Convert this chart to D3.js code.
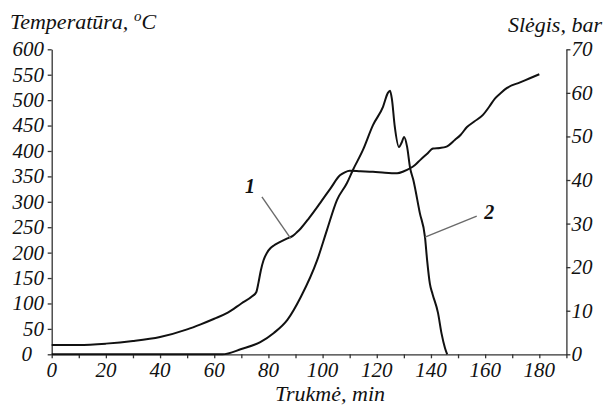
<!DOCTYPE html>
<html>
<head>
<meta charset="utf-8">
<script src="https://cdn.jsdelivr.net/npm/d3@7/dist/d3.min.js"></script>
<style>
  html, body { margin: 0; padding: 0; background: #fff; }
  svg { display: block; }
  text { font-family: "Liberation Serif", "Times New Roman", serif; font-style: italic; fill: #111; }
</style>
</head>
<body>
<svg id="chart" width="604" height="407"></svg>
<script>
// ---- data ----
const timeTicks = [0, 20, 40, 60, 80, 100, 120, 140, 160, 180];
const timeMinorTicks = d3.range(0, 191, 10);
const tempTicks = [0, 50, 100, 150, 200, 250, 300, 350, 400, 450, 500, 550, 600];
const presTicks = [0, 10, 20, 30, 40, 50, 60, 70];

// curve 1: temperature (°C) vs time (min)
const tempTime = [0, 10, 20, 30, 40, 50, 55, 60, 65, 70, 74, 75.5, 76.3, 77.2, 78.2, 79.5, 80.8, 82, 84, 87, 89, 90.5, 92, 95, 99, 103, 106.4, 108.2, 110, 114, 118.6, 123, 127.5, 130, 132.3, 134, 136, 138.5, 140.8, 143.3, 145.5, 148.9, 151, 153.3, 156, 159.2, 161.5, 163.6, 166, 168.1, 172.9, 176.5, 180];
const tempVal  = [18.5, 18.5, 21, 26, 34, 49, 59, 70, 82, 100, 114, 122, 140, 165, 185, 200, 209, 214, 220, 228, 233, 240, 248, 268, 297, 327, 352, 358, 361, 360, 359, 357, 356, 360, 366, 372, 382, 394, 405, 406, 408, 422, 432, 447, 458, 471, 487, 503, 515, 524, 535, 543, 551];

// curve 2: pressure (bar) vs time (min)
const presTime = [0, 63, 70, 77, 82, 87, 92, 98, 101.6, 105.3, 109, 111.2, 114.9, 118.6, 122.3, 124.1, 124.9, 125.6, 126.6, 128.2, 129.2, 130.1, 131.2, 132.3, 133.5, 135.9, 137.8, 138.6, 139.6, 140.6, 142.6, 143.9, 145.2, 146];
const presVal  = [0, 0, 1.2, 2.8, 4.9, 7.9, 13.2, 21.6, 28.5, 35.4, 39.3, 42.3, 46.9, 52.6, 56.8, 60.0, 60.5, 58.5, 52.5, 47.6, 48.6, 49.9, 47.6, 42.8, 40.0, 32.4, 26.9, 21.5, 16.2, 13.8, 9.5, 4.8, 1.4, 0];

const tempSeries = tempTime.map((t, i) => [t, tempVal[i]]);
const presSeries = presTime.map((t, i) => [t, presVal[i]]);

// ---- layout ----
const svg = d3.select("#chart");
const x  = d3.scaleLinear().domain([0, 190]).range([51.7, 566.4]);
const yT = d3.scaleLinear().domain([0, 600]).range([354.3, 49.3]);
const yP = d3.scaleLinear().domain([0, 70]).range([354.3, 49.3]);

const axisColor = "#333";
const tickFont = 21;

// left axis
const gL = svg.append("g").attr("transform", `translate(${x(0)},0)`);
gL.call(d3.axisLeft(yT).tickValues(tempTicks).tickSize(4).tickSizeOuter(0).tickFormat(""));
gL.selectAll(".domain, line").attr("stroke", axisColor).attr("stroke-width", 1.3);
svg.append("g").selectAll("text").data(tempTicks).join("text")
  .attr("x", d => d === 0 ? 32 : 44)
  .attr("y", d => yT(d))
  .attr("dy", "0.33em")
  .attr("text-anchor", "end")
  .attr("font-size", tickFont)
  .text(d => d);

// right axis
const gR = svg.append("g").attr("transform", `translate(${x(190)},0)`);
gR.call(d3.axisRight(yP).tickValues(presTicks).tickSize(4).tickSizeOuter(0).tickFormat(""));
gR.selectAll(".domain, line").attr("stroke", axisColor).attr("stroke-width", 1.3);
svg.append("g").selectAll("text").data(presTicks).join("text")
  .attr("x", x(190) + 5)
  .attr("y", d => yP(d))
  .attr("dy", "0.33em")
  .attr("text-anchor", "start")
  .attr("font-size", tickFont)
  .text(d => d);

// bottom axis
const gB = svg.append("g").attr("transform", `translate(0,${yT(0)})`);
gB.call(d3.axisBottom(x).tickValues(timeMinorTicks).tickSize(4).tickSizeOuter(0).tickFormat(""));
gB.selectAll(".domain, line").attr("stroke", axisColor).attr("stroke-width", 1.3);
svg.append("g").selectAll("text").data(timeTicks).join("text")
  .attr("x", d => x(d))
  .attr("y", 377)
  .attr("text-anchor", "middle")
  .attr("font-size", tickFont)
  .text(d => d);

// titles
const tl = svg.append("text").attr("x", 10).attr("y", 29).attr("font-size", 22);
tl.append("tspan").text("Temperatūra, ");
tl.append("tspan").attr("font-size", 15).attr("dy", -8).text("o");
tl.append("tspan").attr("dy", 8).text("C");

svg.append("text").attr("x", 602).attr("y", 32).attr("text-anchor", "end")
  .attr("font-size", 22).text("Slėgis, bar");

svg.append("text").attr("x", 330).attr("y", 401).attr("text-anchor", "middle")
  .attr("font-size", 22).text("Trukmė, min");

// curves
const lineT = d3.line().x(d => x(d[0])).y(d => yT(d[1])).curve(d3.curveMonotoneX);
const lineP = d3.line().x(d => x(d[0])).y(d => yP(d[1])).curve(d3.curveMonotoneX);

svg.append("path").datum(tempSeries).attr("d", lineT)
  .attr("fill", "none").attr("stroke", "#111").attr("stroke-width", 2).attr("stroke-linejoin", "round");
svg.append("path").datum(presSeries).attr("d", lineP)
  .attr("fill", "none").attr("stroke", "#111").attr("stroke-width", 2).attr("stroke-linejoin", "round");

// annotations (leader lines + curve numbers)
const leader1 = { from: [77.6, 309.6], to: [88.2, 228], labelAt: [73.2, 317], text: "1" };
const leader2 = { from: [156.9, 31.7], to: [137.8, 26.9], labelAt: [161.5, 31.0], text: "2" };

svg.append("line")
  .attr("x1", x(leader1.from[0])).attr("y1", yT(leader1.from[1]))
  .attr("x2", x(leader1.to[0])).attr("y2", yT(leader1.to[1]))
  .attr("stroke", "#6a6a6a").attr("stroke-width", 1.4);
svg.append("text")
  .attr("x", x(leader1.labelAt[0])).attr("y", yT(leader1.labelAt[1]))
  .attr("text-anchor", "middle").attr("font-size", 20).attr("font-weight", "bold")
  .text(leader1.text);

svg.append("line")
  .attr("x1", x(leader2.from[0])).attr("y1", yP(leader2.from[1]))
  .attr("x2", x(leader2.to[0])).attr("y2", yP(leader2.to[1]))
  .attr("stroke", "#6a6a6a").attr("stroke-width", 1.4);
svg.append("text")
  .attr("x", x(leader2.labelAt[0])).attr("y", yP(leader2.labelAt[1]))
  .attr("text-anchor", "middle").attr("font-size", 20).attr("font-weight", "bold")
  .text(leader2.text);
</script>
</body>
</html>
